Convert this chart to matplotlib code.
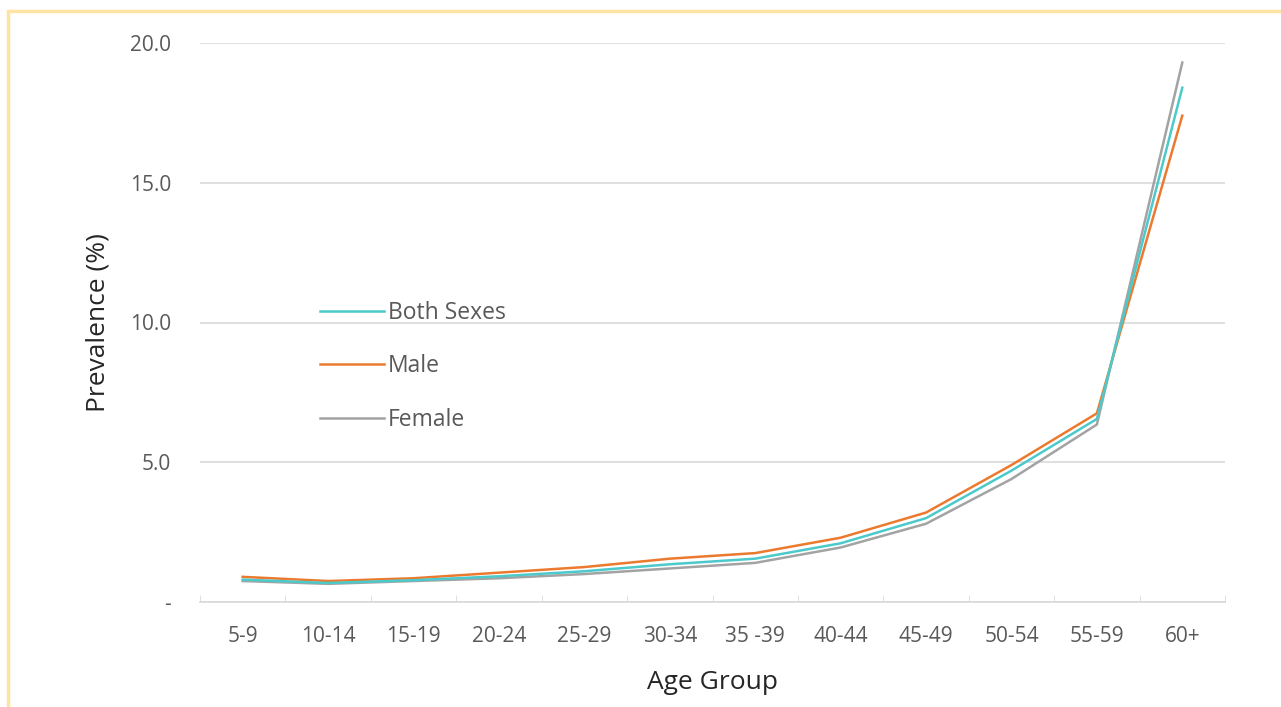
import numpy as np
import matplotlib.pyplot as plt
from matplotlib.patches import Rectangle

age_groups = ['5-9', '10-14', '15-19', '20-24', '25-29', '30-34', '35 -39',
              '40-44', '45-49', '50-54', '55-59', '60+']
both_sexes = [0.80, 0.68, 0.78, 0.92, 1.10, 1.35, 1.55, 2.10, 3.00, 4.70, 6.55, 18.4]
male = [0.90, 0.75, 0.85, 1.05, 1.25, 1.55, 1.75, 2.30, 3.20, 4.90, 6.75, 17.4]
female = [0.75, 0.65, 0.75, 0.85, 1.00, 1.20, 1.40, 1.95, 2.80, 4.40, 6.35, 19.3]

plt.rcParams['font.family'] = ['Open Sans', 'DejaVu Sans']

fig = plt.figure(figsize=(12.81, 7.07), dpi=100)
fig.patches.append(Rectangle((8 / 1281, -0.1), 1.2, 1.1 - 11 / 707, transform=fig.transFigure,
                             fill=False, edgecolor='#FFE3A3', linewidth=2.5))

ax = fig.add_axes([200 / 1281, 1 - 602 / 707, 1025 / 1281, 559 / 707])
x = np.arange(len(age_groups))
ax.plot(x, both_sexes, color='#4CC9CB', lw=1.8, label='Both Sexes', zorder=3)
ax.plot(x, male, color='#EC7A2E', lw=1.8, label='Male', zorder=2)
ax.plot(x, female, color='#A3A3A3', lw=1.8, label='Female', zorder=1)

ax.set_xlim(-0.5, len(age_groups) - 0.5)
ax.set_ylim(0, 20)
ax.set_yticks([0, 5, 10, 15, 20])
ax.set_yticklabels(['-', '5.0', '10.0', '15.0', '20.0'])
ax.yaxis.grid(True, color='#D9D9D9', lw=1.2)
ax.set_axisbelow(True)
ax.tick_params(axis='y', length=0, pad=21, labelsize=15, labelcolor='#595959')

ax.set_xticks(x)
ax.set_xticklabels(age_groups)
ax.set_xticks(np.arange(-0.5, len(age_groups)), minor=True)
ax.tick_params(axis='x', which='major', length=0, pad=17, labelsize=15, labelcolor='#595959')
ax.tick_params(axis='x', which='minor', direction='in', length=5, color='#D9D9D9')

for s in ['top', 'right', 'left']:
    ax.spines[s].set_visible(False)
ax.spines['bottom'].set_color('#D9D9D9')
ax.spines['bottom'].set_linewidth(1.2)

ax.set_xlabel('Age Group', fontsize=19, color='#262626', labelpad=17)
ax.set_ylabel('Prevalence (%)', fontsize=19, color='#262626', labelpad=14)

leg = ax.legend(loc='upper left', bbox_to_anchor=(0.097, 0.576), frameon=False,
                fontsize=16.5, handlelength=2.8, handletextpad=0.15, labelspacing=1.3)
for t in leg.get_texts():
    t.set_color('#595959')

fig.savefig('out.png', dpi=100, facecolor='white')
